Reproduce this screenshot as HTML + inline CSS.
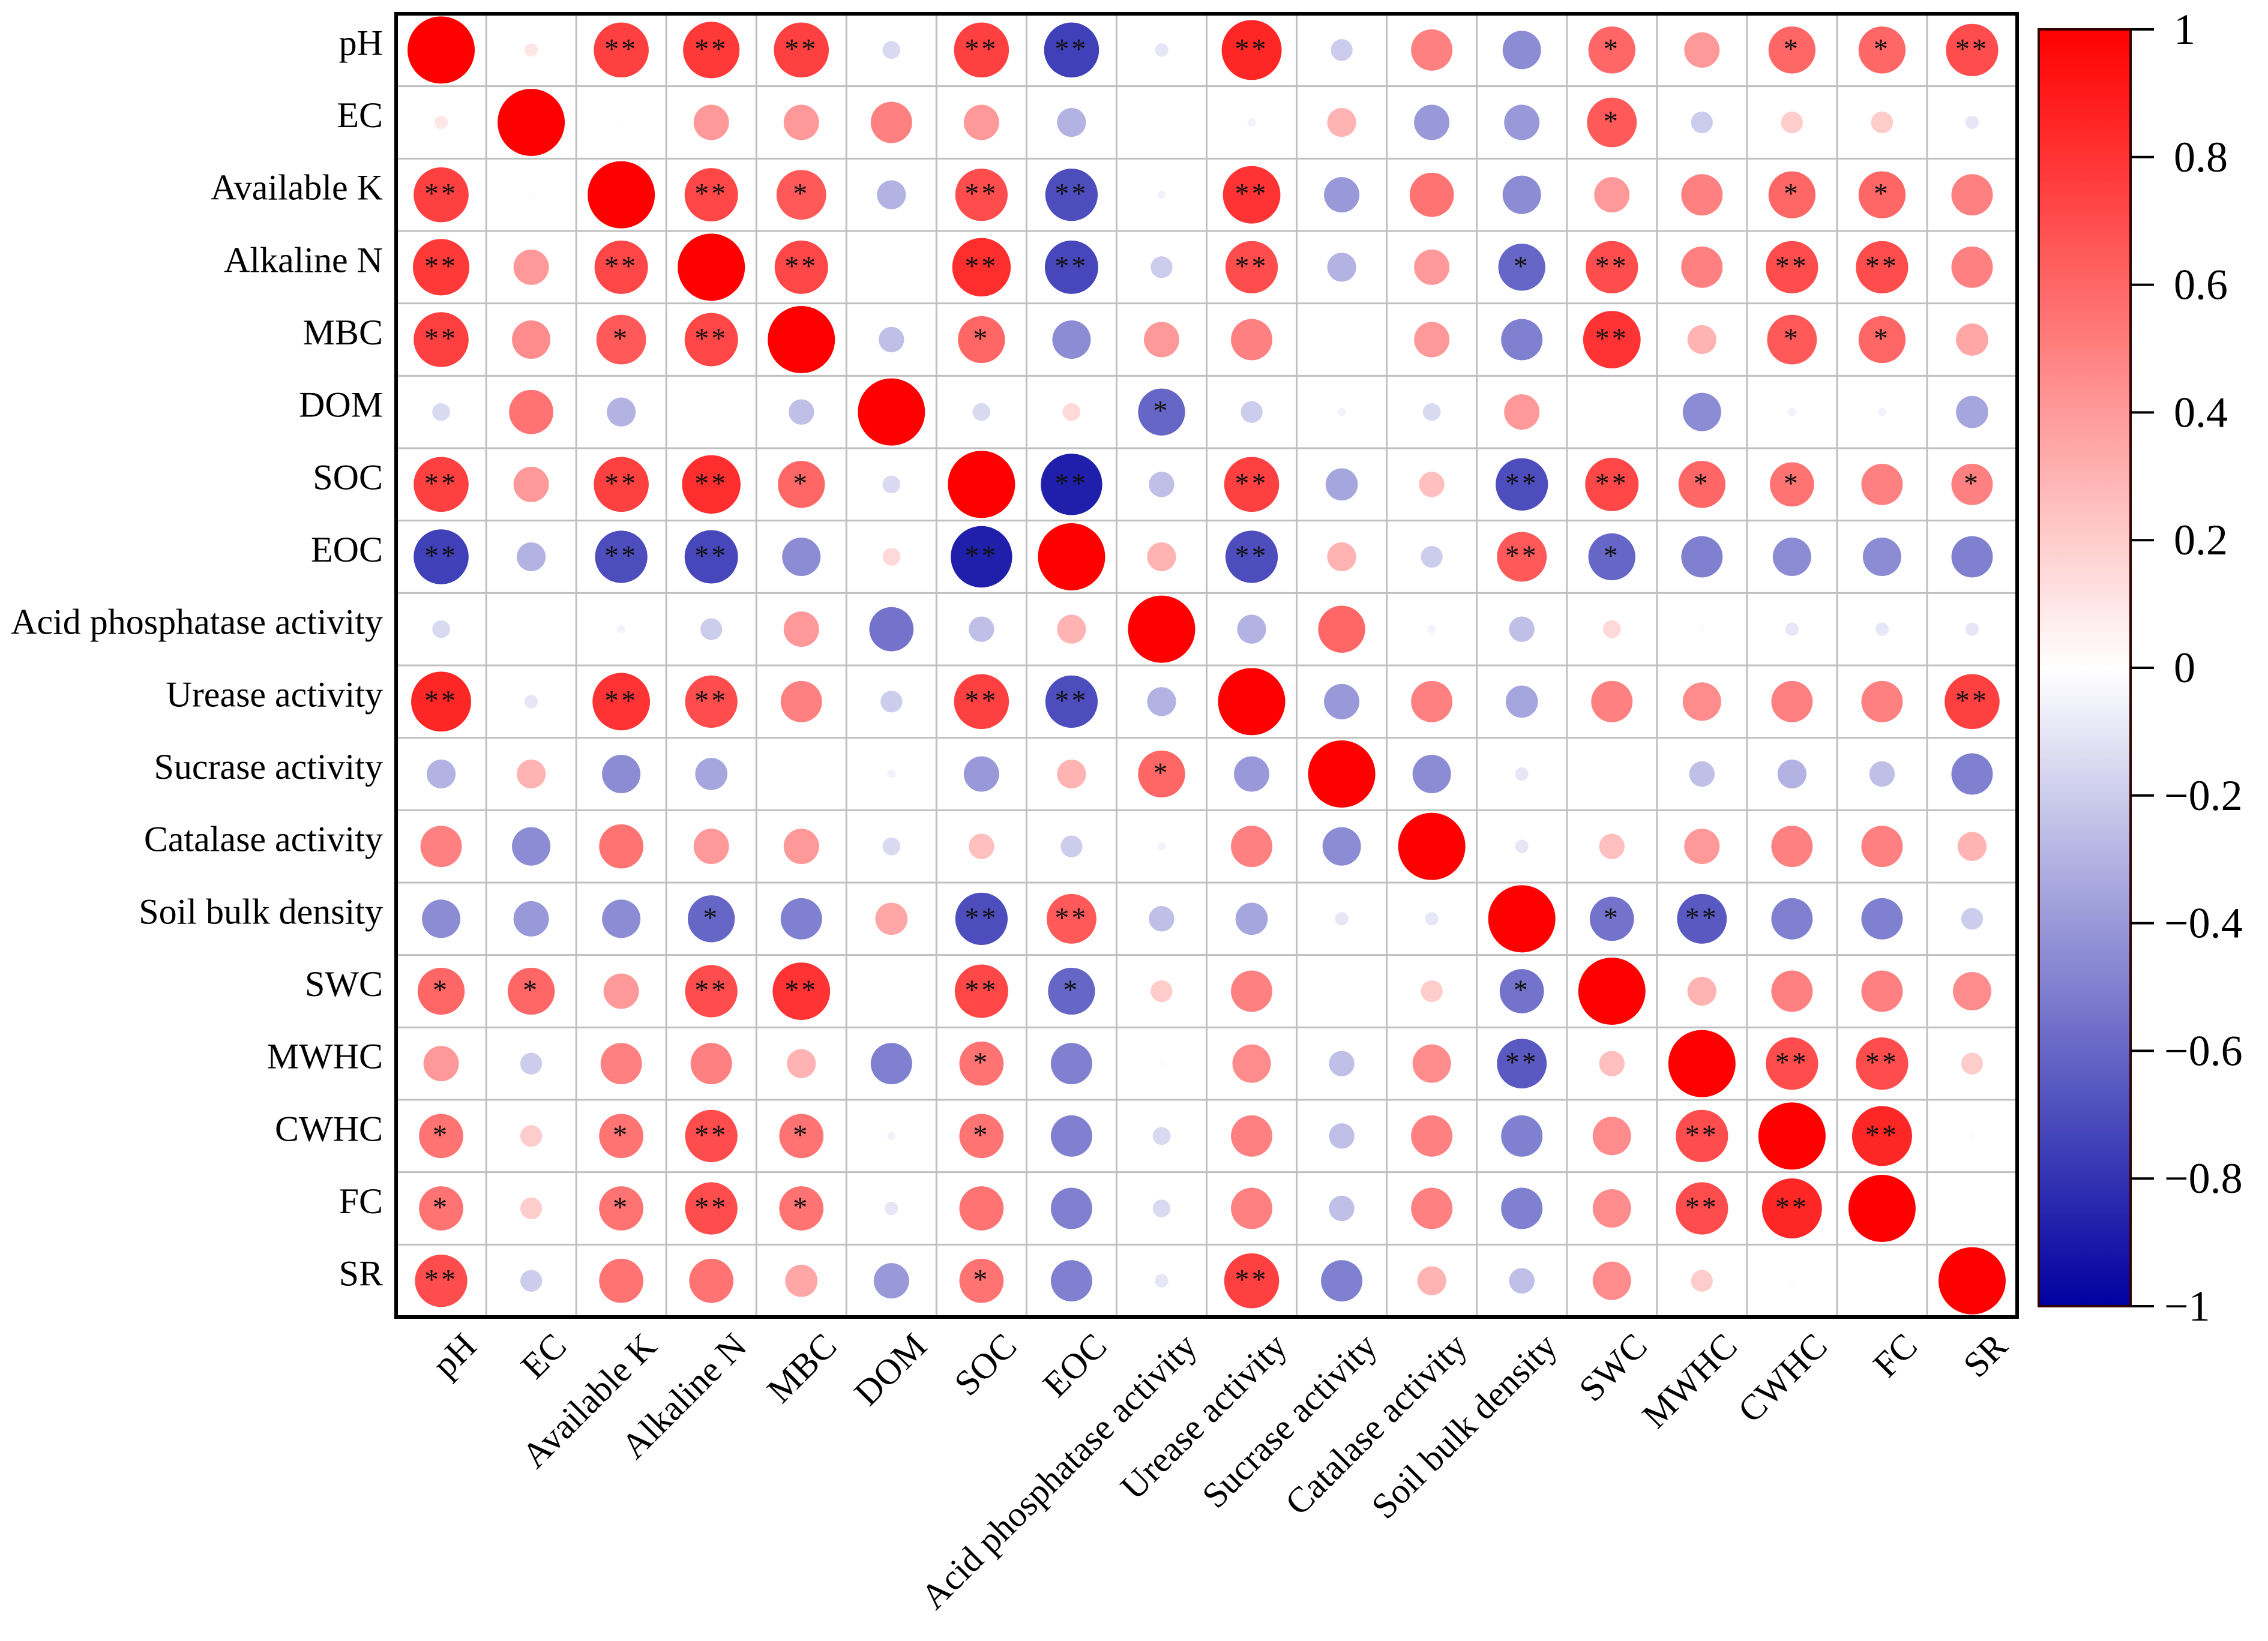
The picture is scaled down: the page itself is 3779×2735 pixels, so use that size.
<!DOCTYPE html>
<html><head><meta charset="utf-8">
<style>
html,body{margin:0;padding:0;background:#fff;}
svg{display:block;font-family:"Liberation Serif",serif;}
</style></head>
<body>
<svg id="chart" width="3779" height="2735" viewBox="0 0 3779 2735" xmlns="http://www.w3.org/2000/svg">
<defs>
<linearGradient id="cbGrad" x1="0" y1="0" x2="0" y2="1">
<stop offset="0" stop-color="rgb(255,0,0)"/>
<stop offset="0.5" stop-color="rgb(255,255,255)"/>
<stop offset="1" stop-color="rgb(0,0,160)"/>
</linearGradient>
</defs>
<g id="grid"></g>
<g id="marks"></g>
<g id="labels"></g>
<g id="cbar"></g>
</svg>
<script>
const variables = ["pH","EC","Available K","Alkaline N","MBC","DOM","SOC","EOC","Acid phosphatase activity","Urease activity","Sucrase activity","Catalase activity","Soil bulk density","SWC","MWHC","CWHC","FC","SR"];
const rowPH   = [1,0.1,0.75,0.78,0.75,-0.15,0.75,-0.75,-0.1,0.85,-0.2,0.5,-0.45,0.6,0.4,0.6,0.6,0.7];
const rowEC   = [0.1,1,0.02,0.4,0.4,0.5,0.4,-0.3,0,-0.05,0.3,-0.4,-0.4,0.65,-0.2,0.2,0.2,-0.1];
const rowAK   = [0.75,0.02,1,0.72,0.65,-0.3,0.7,-0.7,-0.05,0.8,-0.4,0.55,-0.45,0.4,0.5,0.6,0.6,0.5];
const rowAN   = [0.78,0.4,0.72,1,0.72,0,0.82,-0.72,-0.2,0.7,-0.3,0.4,-0.6,0.7,0.5,0.7,0.7,0.5];
const rowMBC  = [0.75,0.45,0.65,0.72,1,-0.25,0.6,-0.45,0.4,0.5,0,0.4,-0.5,0.8,0.3,0.65,0.6,0.35];
const rowDOM  = [-0.15,0.55,-0.3,0,-0.25,1,-0.15,0.15,-0.6,-0.2,-0.05,-0.15,0.4,0,-0.45,-0.05,-0.05,-0.35];
const rowSOC  = [0.75,0.4,0.75,0.82,0.6,-0.15,1,-0.88,-0.25,0.75,-0.35,0.25,-0.7,0.72,0.6,0.55,0.5,0.5];
const rowEOC  = [-0.75,-0.3,-0.7,-0.72,-0.45,0.15,-0.88,1,0.3,-0.7,0.3,-0.2,0.65,-0.6,-0.5,-0.45,-0.45,-0.5];
const rowAcP  = [-0.15,0,-0.05,-0.2,0.4,-0.55,-0.25,0.3,1,-0.3,0.6,-0.05,-0.25,0.15,0.02,-0.1,-0.1,-0.1];
const rowUre  = [0.85,-0.1,0.8,0.7,0.5,-0.2,0.75,-0.7,-0.3,1,-0.4,0.5,-0.35,0.5,0.45,0.5,0.5,0.75];
const rowSuc  = [-0.3,0.3,-0.45,-0.35,0,-0.05,-0.4,0.3,0.6,-0.4,1,-0.45,-0.1,0,-0.25,-0.3,-0.25,-0.5];
const rowCat  = [0.5,-0.45,0.55,0.4,0.4,-0.15,0.25,-0.2,-0.05,0.5,-0.45,1,-0.1,0.25,0.4,0.5,0.5,0.3];
const rowSBD  = [-0.45,-0.4,-0.45,-0.6,-0.5,0.35,-0.7,0.65,-0.25,-0.35,-0.1,-0.1,1,-0.55,-0.65,-0.5,-0.5,-0.2];
const rowSWC  = [0.6,0.6,0.4,0.7,0.8,0,0.72,-0.6,0.2,0.5,0,0.2,-0.55,1,0.3,0.5,0.5,0.45];
const rowMWHC = [0.4,-0.2,0.5,0.5,0.3,-0.5,0.55,-0.5,0.02,0.45,-0.25,0.45,-0.65,0.25,1,0.7,0.7,0.2];
const rowCWHC = [0.55,0.2,0.55,0.7,0.55,-0.05,0.55,-0.5,-0.15,0.5,-0.25,0.5,-0.5,0.45,0.7,1,0.85,0.02];
const rowFC   = [0.55,0.2,0.55,0.7,0.55,-0.1,0.55,-0.5,-0.15,0.5,-0.25,0.5,-0.5,0.45,0.7,0.85,1,0];
const rowSR   = [0.7,-0.2,0.55,0.55,0.35,-0.4,0.55,-0.5,-0.1,0.75,-0.5,0.3,-0.25,0.45,0.2,0.02,0,1];
const sigPH   = ["","","**","**","**","","**","**","","**","","","","*","","*","*","**"];
const sigEC   = ["","","","","","","","","","","","","","*","","","",""];
const sigAK   = ["**","","","**","*","","**","**","","**","","","","","","*","*",""];
const sigAN   = ["**","","**","","**","","**","**","","**","","","*","**","","**","**",""];
const sigMBC  = ["**","","*","**","","","*","","","","","","","**","","*","*",""];
const sigDOM  = ["","","","","","","","","*","","","","","","","","",""];
const sigSOC  = ["**","","**","**","*","","","**","","**","","","**","**","*","*","","*"];
const sigEOC  = ["**","","**","**","","","**","","","**","","","**","*","","","",""];
const sigAcP  = ["","","","","","","","","","","","","","","","","",""];
const sigUre  = ["**","","**","**","","","**","**","","","","","","","","","","**"];
const sigSuc  = ["","","","","","","","","*","","","","","","","","",""];
const sigCat  = ["","","","","","","","","","","","","","","","","",""];
const sigSBD  = ["","","","*","","","**","**","","","","","","*","**","","",""];
const sigSWC  = ["*","*","","**","**","","**","*","","","","","*","","","","",""];
const sigMWHC = ["","","","","","","*","","","","","","**","","","**","**",""];
const sigCWHC = ["*","","*","**","*","","*","","","","","","","","**","","**",""];
const sigFC   = ["*","","*","**","*","","","","","","","","","","**","**","",""];
const sigSR   = ["**","","","","","","*","","","**","","","","","","","",""];
const colorTicks = [1,0.8,0.6,0.4,0.2,0,-0.2,-0.4,-0.6,-0.8,-1];

const values = [rowPH,rowEC,rowAK,rowAN,rowMBC,rowDOM,rowSOC,rowEOC,rowAcP,rowUre,rowSuc,rowCat,rowSBD,rowSWC,rowMWHC,rowCWHC,rowFC,rowSR];
const sigs = [sigPH,sigEC,sigAK,sigAN,sigMBC,sigDOM,sigSOC,sigEOC,sigAcP,sigUre,sigSuc,sigCat,sigSBD,sigSWC,sigMWHC,sigCWHC,sigFC,sigSR];

const NS="http://www.w3.org/2000/svg";
const L=660,R=3361,T=23,B=2195;
const n=variables.length;
const cw=(R-L)/n, ch=(B-T)/n;
function xPos(j){return L+cw*(j+0.5);}
function yPos(i){return T+ch*(i+0.5);}
function radius(v){return Math.pow(Math.abs(v),0.7)*56;}
function color(v){
  const t=Math.min(1,Math.abs(v));
  if(v>=0){const g=Math.round(255*(1-t));return `rgb(255,${g},${g})`;}
  const g=Math.round(255*(1-t));const b=Math.round(255-95*t);return `rgb(${g},${g},${b})`;
}
function mk(tag,attrs,parent){const e=document.createElementNS(NS,tag);for(const k in attrs)e.setAttribute(k,attrs[k]);parent.appendChild(e);return e;}

const grid=document.getElementById('grid');
for(let k=1;k<n;k++){
  const vl=mk('line',{x1:L+cw*k,x2:L+cw*k,y1:T,y2:B,stroke:'#c0c0c0','stroke-width':3},grid);
  
  
  const hl=mk('line',{x1:L,x2:R,y1:T+ch*k,y2:T+ch*k,stroke:'#c0c0c0','stroke-width':3},grid);
  
  
}
const frame=mk('rect',{x:L,y:T,width:R-L,height:B-T,fill:'none',stroke:'#000','stroke-width':6},grid);



const marks=document.getElementById('marks');
for(let i=0;i<n;i++){
  for(let j=0;j<n;j++){
    const v=values[i][j];
    const c=mk('circle',{cx:xPos(j),cy:yPos(i),r:radius(v),fill:color(v)},marks);
    
    
    const s=sigs[i][j];
    if(s){
      const t=mk('text',{x:xPos(j),y:yPos(i)+14,'text-anchor':'middle','font-size':48,fill:'#111','letter-spacing':4},marks);
      t.textContent=s;
      
      
    }
  }
}

const labels=document.getElementById('labels');
for(let i=0;i<n;i++){
  const t=mk('text',{x:638,y:yPos(i)+8,'text-anchor':'end','font-size':60,fill:'#000'},labels);
  t.textContent=variables[i];
  
  
  const ax=xPos(i)+62, ay=B+52;
  const u=mk('text',{x:ax,y:ay,'text-anchor':'end','font-size':60,fill:'#000',transform:`rotate(-45 ${ax} ${ay})`},labels);
  u.textContent=variables[i];
  
  
}

const cb=document.getElementById('cbar');
const cbL=3397,cbR=3550,cbT=49,cbB=2177;
function cbY(v){return cbT+(1-v)/2*(cbB-cbT);}
const bar=mk('rect',{x:cbL,y:cbT,width:cbR-cbL,height:cbB-cbT,fill:'url(#cbGrad)',stroke:'#300','stroke-width':4},cb);


colorTicks.forEach(v=>{
  const y=cbY(v);
  const tk=mk('line',{x1:cbR,x2:3589,y1:y,y2:y,stroke:'#000','stroke-width':4},cb);
  
  
  const lab=mk('text',{x:v<0?3606:3622,y:y+24,'font-size':72,fill:'#000'},cb);
  lab.textContent=v<0?('\u2212'+String(Math.abs(v))):String(v);
  
  
});
</script>
</body></html>
